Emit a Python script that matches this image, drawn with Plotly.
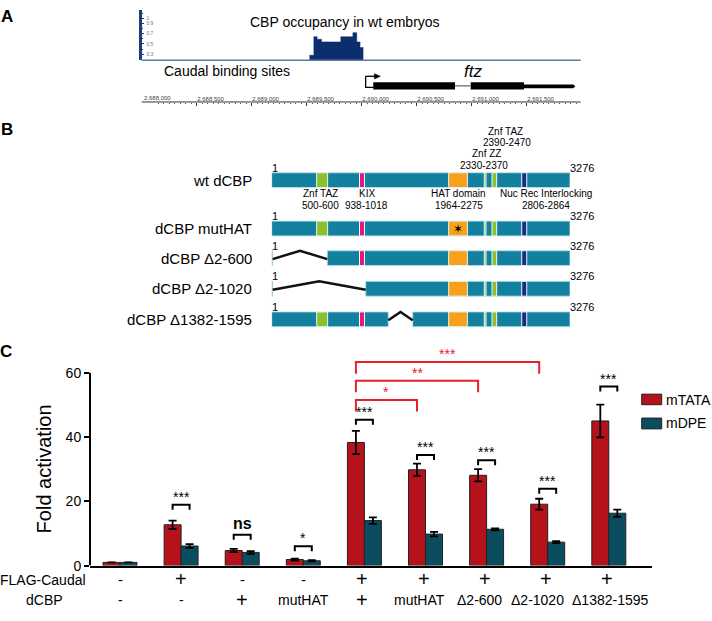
import plotly.graph_objects as go

W, H = 712, 621
def px(x): return x / W
def py(y): return 1 - y / H

FONT = "Liberation Sans, Arial, sans-serif"

# ---------------- Panel C data ----------------
flag_caudal = ["-", "+", "-", "-", "+", "+", "+", "+", "+"]
dcbp_variant = ["-", "-", "+", "mutHAT", "+", "mutHAT", "Δ2-600", "Δ2-1020", "Δ1382-1595"]
mtata = [1.0, 12.7, 4.7, 1.9, 38.3, 29.8, 28.1, 19.1, 45.0]
mtata_err = [0.0, 1.3, 0.5, 0.3, 3.6, 1.9, 1.9, 1.7, 5.1]
mdpe = [1.0, 6.1, 4.1, 1.5, 14.0, 9.8, 11.3, 7.3, 16.3]
mdpe_err = [0.0, 0.6, 0.4, 0.2, 1.0, 0.7, 0.3, 0.3, 1.1]
pair_sig = ["", "***", "ns", "*", "***", "***", "***", "***", "***"]
red_cmp_from = [4, 4, 4]
red_cmp_to = [5, 6, 7]
red_cmp_sig = ["*", "**", "***"]
y_ticks = [0, 20, 40, 60]

# ---------------- Panel A data ----------------
occ_pos = [2689525, 2689565, 2689595, 2689635, 2689810, 2689920, 2689955, 2689985, 2690015]
occ_val = [0.28, 0.64, 0.59, 0.54, 0.64, 0.72, 0.54, 0.43, 0.43]
caudal_sites = [2689545, 2689583, 2689621, 2689659]
occ_ticks = [0.3, 0.5, 0.7, 0.9, 1.0]
occ_ticktext = ["0.3", "0.5", "0.7", "0.9", "1"]
ruler_ticks = [2688000, 2688500, 2689000, 2689500, 2690000, 2690500, 2691000, 2691500]
ftz_tss = 2690036
ftz_arrow_end = 2690170
ftz_exons = [(2690105, 2690848), (2690991, 2691475)]
ftz_utr = (2691475, 2691924)
ftz_end = 2691942

# ---------------- Panel B data ----------------
constructs = ["wt dCBP", "dCBP mutHAT", "dCBP Δ2-600", "dCBP Δ2-1020", "dCBP Δ1382-1595"]
protein_len = 3276
# domains as drawn in the schematic (aa units)
dom_name = ["Znf TAZ", "KIX", "HAT domain", "Znf ZZ", "Znf TAZ", "Nuc Rec Interlocking"]
dom_range = ["500-600", "938-1018", "1964-2275", "2330-2370", "2390-2470", "2806-2864"]
dom_start = [495, 965, 1944, 2335, 2420, 2746]
dom_end = [615, 1020, 2149, 2354, 2471, 2801]
dom_color = ["#8DC02C", "#E5177B", "#F7A11A", "#8DC02C", "#8DC02C", "#1B2B85"]
# deleted region as drawn (aa units), None = full length
del_start = [None, None, 12, 12, 1281]
del_end = [None, None, 611, 1033, 1549]
mut_hat = [False, True, False, False, False]

RED = "#B5121B"
TEAL = "#0B4C5E"
BRACKET_RED = "#E8202A"
PTEAL = "#13809F"

# genome axis geometry: 0.11 px per bp, 2,688,000 at x=141.7 px
BP_PX = 0.11
G0, X0 = 2688000, 141.7
def g_at(xpix): return G0 + (xpix - X0) / BP_PX

fig = go.Figure()

# ---- Panel C bars ----
xs = list(range(len(mtata)))
fig.add_trace(go.Bar(x=xs, y=mtata, name="mTATA", marker=dict(color=RED, line=dict(color="#222", width=1)),
                     error_y=dict(type="data", array=mtata_err, color="black", thickness=1.8, width=4),
                     xaxis="x", yaxis="y", showlegend=False))
fig.add_trace(go.Bar(x=xs, y=mdpe, name="mDPE", marker=dict(color=TEAL, line=dict(color="#222", width=1)),
                     error_y=dict(type="data", array=mdpe_err, color="black", thickness=1.8, width=4),
                     xaxis="x", yaxis="y", showlegend=False))

# ---- Panel A traces ----
fig.add_trace(go.Scatter(x=occ_pos, y=occ_val, mode="lines", line=dict(shape="hv", color="#0D2E6E", width=0.5),
                         fill="tozeroy", fillcolor="#0D2E6E", xaxis="x2", yaxis="y2", showlegend=False,
                         hoverinfo="skip"))
fig.add_trace(go.Scatter(x=caudal_sites, y=[0.057] * len(caudal_sites), mode="markers",
                         marker=dict(symbol="square", size=4, color="#B58AB5", line=dict(color="#6E3C6E", width=0.8)),
                         cliponaxis=False, xaxis="x2", yaxis="y2", showlegend=False, hoverinfo="skip"))
# ruler axis anchor trace (invisible)
fig.add_trace(go.Scatter(x=[ruler_ticks[0], ruler_ticks[-1]], y=[0.5, 0.5], mode="markers",
                         marker=dict(opacity=0), xaxis="x4", yaxis="y2", showlegend=False, hoverinfo="skip"))

# ---- Panel B invisible anchor trace ----
fig.add_trace(go.Scatter(x=[1, protein_len], y=[0, 0], mode="markers", marker=dict(opacity=0),
                         xaxis="x3", yaxis="y3", showlegend=False, hoverinfo="skip"))

shapes = []
ann = []

def text(x, y, s, size=14, xref="paper", yref="paper", xanchor="center", yanchor="middle", color="black",
         bold=False, family=FONT, angle=0, yshift=0, xshift=0):
    if bold:
        s = "<b>" + s + "</b>"
    ann.append(dict(x=x, y=y, xref=xref, yref=yref, text=s, showarrow=False, xanchor=xanchor,
                    yanchor=yanchor, font=dict(size=size, color=color, family=family), textangle=angle,
                    yshift=yshift, xshift=xshift))

# ---------------- Panel C decorations ----------------
half = 0.139
shapes.append(dict(type="line", xref="x domain", yref="y", x0=0, x1=0, y0=0, y1=60,
                   line=dict(color="black", width=2)))
bracket_level = [None, 18.9, 9.6, 6.0, 45.4, 34.4, 32.8, 23.9, 55.7]
for i, s in enumerate(pair_sig):
    if not s:
        continue
    top = bracket_level[i]
    x0, x1 = i - half, i + half
    shapes.append(dict(type="path", xref="x", yref="y",
                       path=f"M {x0},{top-1.55} L {x0},{top} L {x1},{top} L {x1},{top-1.55}",
                       line=dict(color="black", width=2)))
    if s == "ns":
        text(i, top, s, size=16, xref="x", yref="y", yanchor="bottom", bold=True, yshift=1)
    else:
        text(i, top, s, size=14, xref="x", yref="y", yanchor="middle", yshift=8, color="#000000")
red_level = [51.5, 57.5, 63.3]
for a, b, s, top in zip(red_cmp_from, red_cmp_to, red_cmp_sig, red_level):
    x0, x1 = a - half, b - half
    shapes.append(dict(type="path", xref="x", yref="y",
                       path=f"M {x0},{top-3.6} L {x0},{top} L {x1},{top} L {x1},{top-3.6}",
                       line=dict(color=BRACKET_RED, width=2)))
    text((x0 + x1) / 2, top, s, size=14, xref="x", yref="y", yanchor="middle", yshift=8, color=BRACKET_RED)

text(px(43.5), py(475), "Fold activation", size=20, angle=-90)
text(px(87.5), py(587.5), "FLAG-Caudal", size=14, xanchor="right")
text(px(44), py(608), "dCBP", size=14)
row1_shift = [0, 0, 0, 0, -2, -2, -2, -2, -2]
row2_shift = [0, 0, 0, 0, -2, -6, -7, -10, 2]
for i, (f, d) in enumerate(zip(flag_caudal, dcbp_variant)):
    text(i, py(587), f, size=20 if f == "+" else 15, xref="x", xshift=row1_shift[i])
    text(i, py(608), d, size=20 if d == "+" else 14, xref="x", xshift=row2_shift[i])

# legend
shapes.append(dict(type="rect", xref="paper", yref="paper", x0=px(641.7), x1=px(661.7), y0=py(410), y1=py(399.3),
                   fillcolor=RED, line=dict(color="#222", width=1)))
shapes.append(dict(type="rect", xref="paper", yref="paper", x0=px(641.7), x1=px(661.7), y0=py(434.5), y1=py(423.5),
                   fillcolor=TEAL, line=dict(color="#222", width=1)))
text(px(664), py(405), "mTATA", size=14, xanchor="left")
text(px(664), py(429), "mDPE", size=14, xanchor="left")
text(px(6), py(356.5), "C", size=17, bold=True)

# ---------------- Panel A decorations ----------------
text(px(7), py(17), "A", size=17, bold=True)
shapes.append(dict(type="line", xref="x2 domain", yref="paper", x0=0, x1=1, y0=py(61), y1=py(61),
                   line=dict(color="#5B7B9B", width=1.5)))
# ruler line
shapes.append(dict(type="line", xref="x4", yref="paper", x0=ruler_ticks[0], x1=g_at(580.7),
                   y0=py(103.3), y1=py(103.3), line=dict(color="#333", width=1)))
# first ruler label (the axis drops the edge label)
text(ruler_ticks[0], py(99.5), f"{ruler_ticks[0]:,}", size=6, xref="x4", xanchor="left", color="#444")
text(px(345), py(22.5), "CBP occupancy in wt embryos", size=14)
text(px(162), py(71.5), "Caudal binding sites", size=14, xanchor="left")
text(px(473), py(72), "<i>ftz</i>", size=17)
# gene model
shapes.append(dict(type="path", xref="x2", yref="paper",
                   path=f"M {ftz_tss},{py(77.3)} L {ftz_tss},{py(88.5)} L {ftz_exons[0][0]},{py(88.5)}",
                   line=dict(color="black", width=1.3)))
shapes.append(dict(type="line", xref="x2", yref="paper", x0=ftz_tss, x1=ftz_arrow_end - 40,
                   y0=py(77.3), y1=py(77.3), line=dict(color="black", width=1.3)))
shapes.append(dict(type="path", xref="x2", yref="paper",
                   path=f"M {ftz_arrow_end-55},{py(74.6)} L {ftz_arrow_end},{py(77.3)} L {ftz_arrow_end-55},{py(80)} Z",
                   fillcolor="black", line=dict(color="black", width=0.5)))
for s0, s1 in ftz_exons:
    shapes.append(dict(type="rect", xref="x2", yref="paper", x0=s0, x1=s1, y0=py(90.7), y1=py(83.3),
                       fillcolor="black", line=dict(width=0)))
shapes.append(dict(type="line", xref="x2", yref="paper", x0=ftz_exons[0][1], x1=ftz_exons[1][0],
                   y0=py(87), y1=py(87), line=dict(color="#444", width=1)))
shapes.append(dict(type="path", xref="x2", yref="paper",
                   path=f"M {ftz_utr[0]},{py(85.5)} L {ftz_utr[1]},{py(85.5)} L {ftz_end},{py(87.3)} "
                        f"L {ftz_utr[1]},{py(89.3)} L {ftz_utr[0]},{py(89.3)} Z",
                   fillcolor="black", line=dict(width=0)))

# ---------------- Panel B decorations ----------------
text(px(7), py(131), "B", size=17, bold=True)
row_y = [182.5, 231.5, 261.5, 292.5, 323.5]
hh = 7.5
for r, name in enumerate(constructs):
    yc = row_y[r]
    text(px(253.5), py(yc), name, size=15, xanchor="right")
    text(px(269.5), py(yc - hh - 5), "1", size=11, xanchor="left")
    text(px(567.5), py(yc - hh - 5), "3276", size=11, xanchor="left")
    if del_start[r] is None:
        segs = [(1, protein_len)]
    else:
        segs = [(1, del_start[r]), (del_end[r], protein_len)]
    for a, b in segs:
        shapes.append(dict(type="rect", xref="x3", yref="paper", x0=a, x1=b, y0=py(yc + hh), y1=py(yc - hh),
                           fillcolor=PTEAL, line=dict(color="#BFE3EE", width=0.8)))
    for s0, s1, c in zip(dom_start, dom_end, dom_color):
        if del_start[r] is not None and s0 < del_end[r] and s1 > del_start[r]:
            continue
        shapes.append(dict(type="rect", xref="x3", yref="paper", x0=s0, x1=s1, y0=py(yc + hh), y1=py(yc - hh),
                           fillcolor=c, line=dict(color="#EAF6F9", width=1)))
    if del_start[r] is not None:
        a, b = del_start[r], del_end[r]
        shapes.append(dict(type="path", xref="x3", yref="paper",
                           path=f"M {a},{py(yc + 1)} L {(a + b) / 2},{py(yc - 7.5)} L {b},{py(yc + 1)}",
                           line=dict(color="#111", width=2.5)))
    if mut_hat[r]:
        text((dom_start[2] + dom_end[2]) / 2, py(yc), "✶", size=12, xref="x3", family="DejaVu Sans")

# domain labels (wt row)
lab_lower = [(0, 320), (1, 366.5), (2, 458.5), (5, 546)]
for k, xc in lab_lower:
    text(px(xc), py(196), dom_name[k], size=10)
    text(px(xc), py(208.3), dom_range[k], size=10)
text(px(505.5), py(133.3), dom_name[4], size=10)
text(px(507), py(144.8), dom_range[4], size=10)
text(px(486.5), py(156), dom_name[3], size=10)
text(px(484.5), py(167.3), dom_range[3], size=10)

R4_LEFT, R4_RIGHT = 120.0, 600.0
fig.update_layout(
    width=W, height=H, margin=dict(l=0, r=0, t=0, b=0),
    paper_bgcolor="white", plot_bgcolor="rgba(0,0,0,0)",
    font=dict(family=FONT, color="black"),
    barmode="group", bargap=0.444, bargroupgap=0,
    showlegend=False,
    xaxis=dict(domain=[px(90), px(652)], range=[-0.491, 8.707], anchor="y", showline=True, linecolor="black",
               linewidth=2, ticks="", showticklabels=False, showgrid=False, zeroline=False, fixedrange=True),
    yaxis=dict(domain=[py(573), py(345)], range=[0, 70], anchor="x", tickvals=y_ticks, ticks="outside",
               ticklen=5, tickwidth=2, tickcolor="black", showline=False, showgrid=False, zeroline=False,
               tickfont=dict(size=14, family=FONT)),
    # track axis (no ticks)
    xaxis2=dict(domain=[px(X0), px(580.7)], range=[G0, g_at(580.7)], anchor="y2", showline=False,
                ticks="", showticklabels=False, showgrid=False, zeroline=False),
    # ruler axis (same bp->px mapping)
    xaxis4=dict(domain=[px(R4_LEFT), px(R4_RIGHT)], range=[g_at(R4_LEFT), g_at(R4_RIGHT)], anchor="free",
                position=py(103.3), side="top", showline=False, ticks="inside", ticklen=3, tickcolor="#333",
                tickvals=ruler_ticks[1:], tickformat=",d", ticklabelposition="outside right",
                tickfont=dict(size=6, color="#444"), showgrid=False, zeroline=False,
                minor=dict(tickvals=list(range(ruler_ticks[0], int(g_at(580.7)), 50)), ticks="inside",
                           ticklen=1.5, tickcolor="#555")),
    yaxis2=dict(domain=[py(61), py(10)], range=[0.185, 1.162], anchor="x2", showline=True, linecolor="#1E3C78",
                linewidth=2.5, tickvals=occ_ticks, ticktext=occ_ticktext, ticks="inside", ticklen=3,
                tickcolor="#1E3C78", ticklabelposition="inside", tickfont=dict(size=5, color="#777"),
                showgrid=False, zeroline=False,
                minor=dict(dtick=0.1, tick0=0, ticks="inside", ticklen=2, tickcolor="#1E3C78")),
    xaxis3=dict(domain=[px(271.7), px(570)], range=[1, protein_len], anchor="y3", visible=False),
    yaxis3=dict(domain=[py(335), py(125)], range=[0, 1], anchor="x3", visible=False),
    shapes=shapes, annotations=ann,
)

fig.write_html("out.html", config={"displayModeBar": False},
               post_script="document.body.style.margin='0';document.body.style.padding='0';"
                           "document.body.style.overflow='hidden';")
